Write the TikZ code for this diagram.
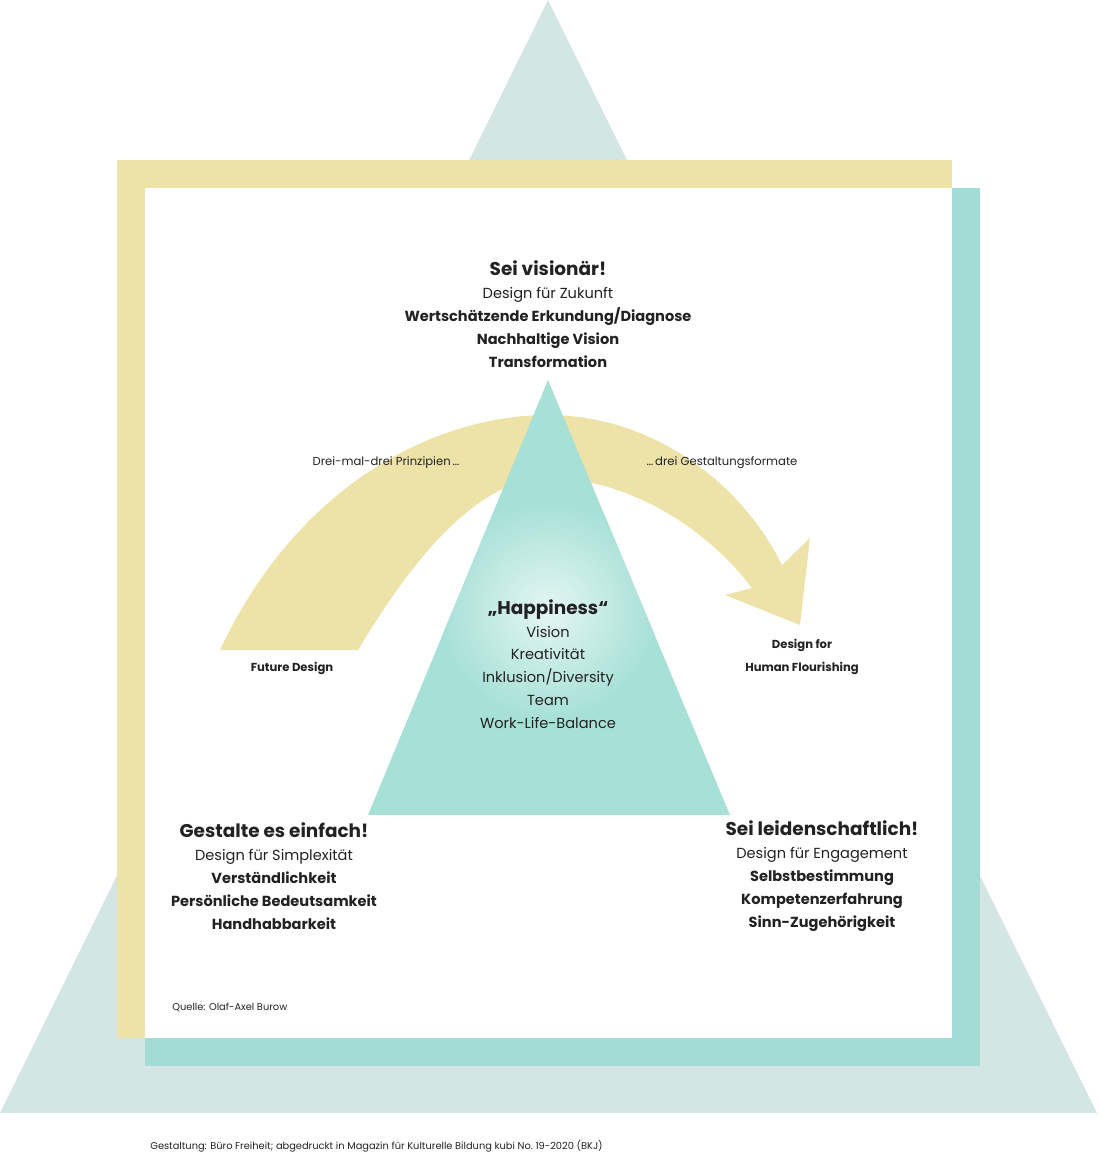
\documentclass[tikz,border=0pt]{standalone}
\usepackage{fontspec}
\setmainfont{Poppins}
\usetikzlibrary{positioning}
\definecolor{bigtri}{HTML}{D3E6E4}
\definecolor{tealbox}{HTML}{A3DCD5}
\definecolor{yellowbox}{HTML}{EDE3A8}
\definecolor{innertri}{HTML}{A6E0D7}
\definecolor{textdark}{HTML}{222222}
\begin{document}
\begin{tikzpicture}[x=0.02cm,y=-0.02cm,
    txt/.style={align=center, text=textdark, font=\fontsize{8.3}{13}\selectfont, inner sep=0pt},
    head/.style={font=\fontsize{10.5}{13}\selectfont\bfseries},
    small/.style={text=textdark, font=\fontsize{6.6}{13}\selectfont, inner sep=0pt},
    tiny/.style={text=textdark, font=\fontsize{5.6}{8}\selectfont, inner sep=0pt}]
  \useasboundingbox (0,0) rectangle (1100,1160);
  % background shapes
  \fill[bigtri] (548,0) -- (1097,1113) -- (0,1113) -- cycle;
  \fill[tealbox] (145,188) rectangle (980,1066);
  \fill[yellowbox] (117,160) rectangle (952,1038);
  \fill[white] (145,188) rectangle (952,1038);
  % curved arrow
  \fill[yellowbox] (220,650) .. controls (300,480) and (440,415) .. (548,415)
    .. controls (650,415) and (740,480) .. (782,565) -- (810,538) -- (800,625)
    -- (725,595) -- (752,588) .. controls (700,520) and (620,478) .. (548,478)
    .. controls (470,478) and (400,580) .. (358,650) -- cycle;
  % inner triangle
  \fill[innertri] (548,380) -- (730,815) -- (368,815) -- cycle;
  \begin{scope}
    \clip (548,380) -- (730,815) -- (368,815) -- cycle;
    \shade[inner color=white!70!innertri, outer color=innertri] (548,610) circle (110);
  \end{scope}
  % texts
  \node[txt] (vision) at (548,314) {{\fontsize{10.5}{13}\selectfont\bfseries Sei visionär!}\\Design für Zukunft\\\textbf{Wertschätzende Erkundung/Diagnose}\\\textbf{Nachhaltige Vision}\\\textbf{Transformation}};
  \node[txt] (happy) at (548,664) {{\fontsize{10.5}{13}\selectfont\bfseries „Happiness“}\\Vision\\Kreativität\\Inklusion/Diversity\\Team\\Work-Life-Balance};
  \node[txt] (einfach) at (274,876) {{\fontsize{10.5}{13}\selectfont\bfseries Gestalte es einfach!}\\Design für Simplexität\\\textbf{Verständlichkeit}\\\textbf{Persönliche Bedeutsamkeit}\\\textbf{Handhabbarkeit}};
  \node[txt] (leiden) at (822,876) {{\fontsize{10.5}{13}\selectfont\bfseries Sei leidenschaftlich!}\\Design für Engagement\\\textbf{Selbstbestimmung}\\\textbf{Kompetenzerfahrung}\\\textbf{Sinn-Zugehörigkeit}};
  \node[small] (prinz) at (386,463) {Drei-mal-drei Prinzipien\,…};
  \node[small] (formate) at (722,463) {…\,drei Gestaltungsformate};
  \node[small, font=\fontsize{6.6}{13}\selectfont\bfseries] (future) at (292,668) {Future Design};
  \node[small, align=center, font=\fontsize{6.6}{13}\selectfont\bfseries] (flourish) at (802,657) {Design for\\Human Flourishing};
  \node[tiny, anchor=west] (quelle) at (172,1007) {Quelle: Olaf-Axel Burow};
  \node[tiny, anchor=west] (credit) at (150,1146) {Gestaltung: Büro Freiheit; abgedruckt in Magazin für Kulturelle Bildung kubi No.\ 19-2020 (BKJ)};
\end{tikzpicture}
\end{document}
